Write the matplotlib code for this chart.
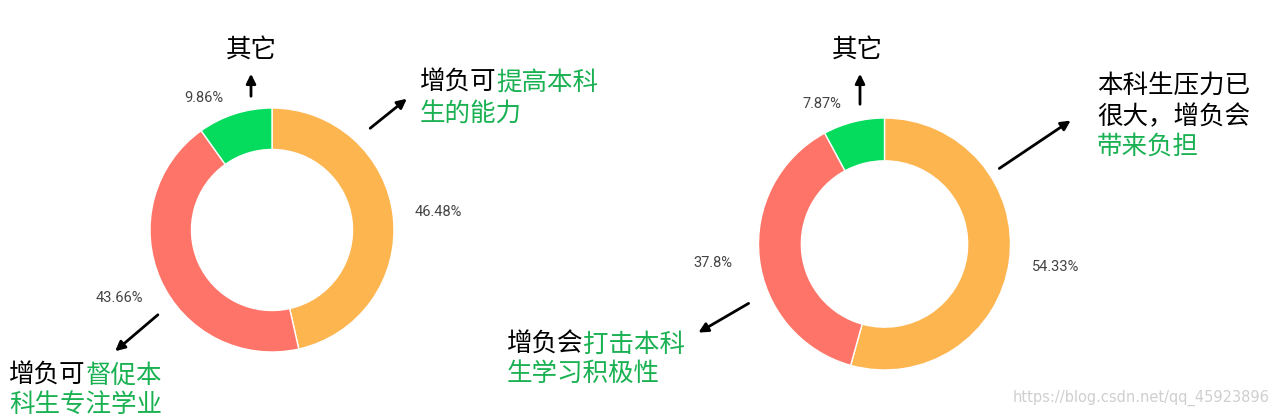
import matplotlib
matplotlib.use("Agg")
import matplotlib.pyplot as plt

plt.rcParams['font.family'] = ['Noto Sans CJK SC', 'DejaVu Sans']

# data
left_names = ["增负可提高本科生的能力", "增负可督促本科生专注学业", "其它"]
left_vals = [46.48, 43.66, 9.86]
right_names = ["本科生压力已很大，增负会带来负担", "增负会打击本科生学习积极性", "其它"]
right_vals = [54.33, 37.8, 7.87]
colors = ["#FDB550", "#FF7468", "#05DC5E"]

W, H = 1277, 417
GREEN = "#1AB152"
CW = 25.5  # width of one CJK char in px

fig = plt.figure(figsize=(W / 100, H / 100), dpi=100)
ax = fig.add_axes([0, 0, 1, 1])


def Y(py):
    return H - py


def fmt(p):
    return f"{p:.2f}".rstrip('0').rstrip('.') + '%'


def donut(vals, cx, cy, r, small_pos):
    wedges, _, pcts = ax.pie(vals, colors=colors, startangle=90, counterclock=False,
                             center=(cx, Y(cy)), radius=r, autopct=fmt, pctdistance=1.37,
                             wedgeprops=dict(width=r * 0.34, edgecolor='white', linewidth=1),
                             textprops=dict(family='Roboto', fontsize=10.5, color='#444444'))
    pcts[2].set_position((small_pos[0], Y(small_pos[1])))


def line(x, py, parts):
    for txt, col in parts:
        ax.text(x, Y(py), txt, color=col, fontsize=18.4, fontweight='light',
                ha='left', va='center')
        x += len(txt) * CW


def arrow(p0, p1):
    ax.annotate('', xy=(p1[0], Y(p1[1])), xytext=(p0[0], Y(p0[1])),
                arrowprops=dict(arrowstyle='-|>', color='black', lw=2, mutation_scale=14))


donut(left_vals, 272, 230, 122, (204, 98))
donut(right_vals, 884.5, 244, 126, (822, 104))

ax.set_xlim(0, W)
ax.set_ylim(0, H)
ax.set_aspect('equal')
ax.axis('off')

# left chart annotations
ax.text(251, Y(50), "其它", fontsize=18.4, fontweight='light', ha='center', va='center')
arrow((251, 99), (251, 71))
arrow((368, 130), (409, 97))
line(420, 83, [("增负可", "black"), ("提高本科", GREEN)])
line(420, 114, [("生的能力", GREEN)])
arrow((160, 313), (113, 353))
line(9, 376, [("增负可", "black"), ("督促本", GREEN)])
line(9, 405, [("科生专注学业", GREEN)])

# right chart annotations
ax.text(857, Y(50), "其它", fontsize=18.4, fontweight='light', ha='center', va='center')
arrow((860, 107), (860, 71))
arrow((997, 170), (1073, 119))
line(1097, 86, [("本科生压力已", "black")])
line(1097, 117, [("很大，增负会", "black")])
line(1097, 147, [("带来负担", GREEN)])
arrow((751, 302), (696, 334))
line(507, 345, [("增负会", "black"), ("打击本科", GREEN)])
line(507, 374, [("生学习积极性", GREEN)])

ax.text(1270, Y(398), "https://blog.csdn.net/qq_45923896", fontsize=10.5,
        family='DejaVu Sans', color='#cfcfcf', ha='right', va='center')

fig.savefig("out.png", dpi=100)
